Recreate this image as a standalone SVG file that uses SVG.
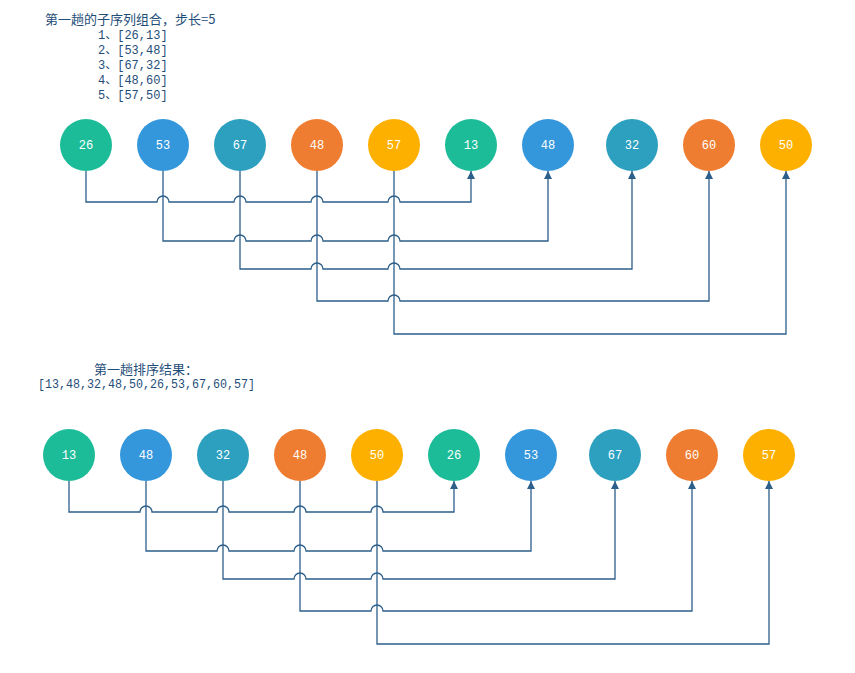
<svg xmlns="http://www.w3.org/2000/svg" width="855" height="673" viewBox="0 0 855 673">
<defs>
<style>
.c1{fill:#1DBC99}.c2{fill:#3597DB}.c3{fill:#2DA0BF}.c4{fill:#EE7D31}.c5{fill:#FEB001}
.lbl{font-family:"Liberation Mono","DejaVu Sans Mono",monospace;font-size:12px;fill:#ffffff;text-anchor:middle}
.title{font-family:"Noto Sans CJK SC","Liberation Sans",sans-serif;font-size:13px;fill:#1F4E79}
.mono{font-family:"Liberation Mono","Noto Sans CJK SC",monospace;font-size:12px;fill:#1F4E79}
.ln{fill:none;stroke:#2D5F8B;stroke-width:1.3;marker-end:url(#arr)}
</style>
<marker id="arr" viewBox="0 0 10 10" refX="10" refY="5" markerWidth="8" markerHeight="8" markerUnits="userSpaceOnUse" orient="auto">
<path d="M0,0 L10,5 L0,10 Z" fill="#2D5F8B"/>
</marker>
</defs>
<rect width="855" height="673" fill="#ffffff"/>

<g id="texts-top">
<text class="title" x="45" y="24">第一趟的子序列组合，步长=5</text>
<text class="mono" x="98" y="39">1、[26,13]</text>
<text class="mono" x="98" y="54">2、[53,48]</text>
<text class="mono" x="98" y="69">3、[67,32]</text>
<text class="mono" x="98" y="84">4、[48,60]</text>
<text class="mono" x="98" y="99">5、[57,50]</text>
</g>

<g id="connectors-top">
<path class="ln" d="M86,171 V202 H157 A6,6 0 0 1 169,202 H234 A6,6 0 0 1 246,202 H311 A6,6 0 0 1 323,202 H388 A6,6 0 0 1 400,202 H471 V171"/>
<path class="ln" d="M163,171 V241 H234 A6,6 0 0 1 246,241 H311 A6,6 0 0 1 323,241 H388 A6,6 0 0 1 400,241 H548 V171"/>
<path class="ln" d="M240,171 V269 H311 A6,6 0 0 1 323,269 H388 A6,6 0 0 1 400,269 H632 V171"/>
<path class="ln" d="M317,171 V301 H388 A6,6 0 0 1 400,301 H709 V171"/>
<path class="ln" d="M394,171 V334 H786 V171"/>
</g>

<g id="t26"><circle class="c1" cx="86" cy="145" r="26"/><text class="lbl" x="86" y="149">26</text></g>
<g id="t53"><circle class="c2" cx="163" cy="145" r="26"/><text class="lbl" x="163" y="149">53</text></g>
<g id="t67"><circle class="c3" cx="240" cy="145" r="26"/><text class="lbl" x="240" y="149">67</text></g>
<g id="t48a"><circle class="c4" cx="317" cy="145" r="26"/><text class="lbl" x="317" y="149">48</text></g>
<g id="t57"><circle class="c5" cx="394" cy="145" r="26"/><text class="lbl" x="394" y="149">57</text></g>
<g id="t13"><circle class="c1" cx="471" cy="145" r="26"/><text class="lbl" x="471" y="149">13</text></g>
<g id="t48b"><circle class="c2" cx="548" cy="145" r="26"/><text class="lbl" x="548" y="149">48</text></g>
<g id="t32"><circle class="c3" cx="632" cy="145" r="26"/><text class="lbl" x="632" y="149">32</text></g>
<g id="t60"><circle class="c4" cx="709" cy="145" r="26"/><text class="lbl" x="709" y="149">60</text></g>
<g id="t50"><circle class="c5" cx="786" cy="145" r="26"/><text class="lbl" x="786" y="149">50</text></g>

<g id="texts-bottom">
<text class="title" x="94" y="374">第一趟排序结果：</text>
<text class="mono" x="38" y="388" textLength="217" lengthAdjust="spacingAndGlyphs">[13,48,32,48,50,26,53,67,60,57]</text>
</g>

<g id="connectors-bottom">
<path class="ln" d="M69,481 V512 H140 A6,6 0 0 1 152,512 H217 A6,6 0 0 1 229,512 H294 A6,6 0 0 1 306,512 H371 A6,6 0 0 1 383,512 H454 V481"/>
<path class="ln" d="M146,481 V551 H217 A6,6 0 0 1 229,551 H294 A6,6 0 0 1 306,551 H371 A6,6 0 0 1 383,551 H531 V481"/>
<path class="ln" d="M223,481 V579 H294 A6,6 0 0 1 306,579 H371 A6,6 0 0 1 383,579 H615 V481"/>
<path class="ln" d="M300,481 V611 H371 A6,6 0 0 1 383,611 H692 V481"/>
<path class="ln" d="M377,481 V644 H769 V481"/>
</g>

<g id="b13"><circle class="c1" cx="69" cy="455" r="26"/><text class="lbl" x="69" y="459">13</text></g>
<g id="b48a"><circle class="c2" cx="146" cy="455" r="26"/><text class="lbl" x="146" y="459">48</text></g>
<g id="b32"><circle class="c3" cx="223" cy="455" r="26"/><text class="lbl" x="223" y="459">32</text></g>
<g id="b48b"><circle class="c4" cx="300" cy="455" r="26"/><text class="lbl" x="300" y="459">48</text></g>
<g id="b50"><circle class="c5" cx="377" cy="455" r="26"/><text class="lbl" x="377" y="459">50</text></g>
<g id="b26"><circle class="c1" cx="454" cy="455" r="26"/><text class="lbl" x="454" y="459">26</text></g>
<g id="b53"><circle class="c2" cx="531" cy="455" r="26"/><text class="lbl" x="531" y="459">53</text></g>
<g id="b67"><circle class="c3" cx="615" cy="455" r="26"/><text class="lbl" x="615" y="459">67</text></g>
<g id="b60"><circle class="c4" cx="692" cy="455" r="26"/><text class="lbl" x="692" y="459">60</text></g>
<g id="b57"><circle class="c5" cx="769" cy="455" r="26"/><text class="lbl" x="769" y="459">57</text></g>
</svg>
